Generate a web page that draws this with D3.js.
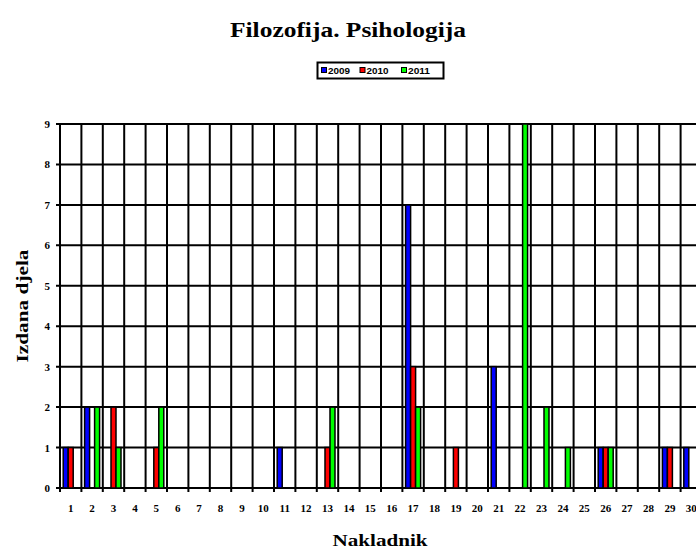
<!DOCTYPE html>
<html>
<head>
  <meta charset="UTF-8">
  <title>Filozofija. Psihologija</title>
  <style>
    body { margin: 0; background: #fff; }
    svg { display: block; }
  </style>
</head>
<body>
<svg></svg>
<script src="https://d3js.org/d3.v7.min.js"></script>
<script>

let width = 696, height = 550;

// publisher numbers 1..30
const nakladnici = ["1","2","3","4","5","6","7","8","9","10","11","12","13","14","15",
  "16","17","18","19","20","21","22","23","24","25","26","27","28","29","30"];
const godine = ["2009", "2010", "2011"];
const boje = ["#0000ff", "#ff0000", "#00ff00"];

const v2009 = [1,2,0,0,0,0,0,0,0,0,1,0,0,0,0,0,7,0,0,0,3,0,0,0,0,1,0,0,1,1];
const v2010 = [1,0,2,0,1,0,0,0,0,0,0,0,1,0,0,0,3,0,1,0,0,0,0,0,0,1,0,0,1,0];
const v2011 = [0,2,1,0,2,0,0,0,0,0,0,0,2,0,0,0,2,0,0,0,0,9,2,1,0,1,0,0,0,0];
const yTicks = [0,1,2,3,4,5,6,7,8,9];

let svg = d3.select("svg")
    .attr("width", width)
    .attr("height", height);

let plotLeft = 60, plotTop = 124, plotBottom = 488, catW = 21.4;

let x = d3.scaleBand()
    .domain(nakladnici)
    .range([plotLeft, plotLeft + catW * nakladnici.length])
    .padding(0);

let x1 = d3.scaleBand()
    .domain(godine)
    .range([(catW - 15) / 2, (catW + 15) / 2]);

let y = d3.scaleLinear()
    .domain([0, 9])
    .range([plotBottom, plotTop]);

let color = d3.scaleOrdinal().domain(godine).range(boje);

let rows = nakladnici.map((n, i) => ({
  n: n,
  vals: [
    {g: "2009", v: v2009[i]},
    {g: "2010", v: v2010[i]},
    {g: "2011", v: v2011[i]}
  ]
}));

// title (the original is a bit stretched sideways)
svg.append("text")
    .attr("x", 348).attr("y", 37)
    .attr("text-anchor", "middle")
    .attr("textLength", 236)
    .attr("lengthAdjust", "spacingAndGlyphs")
    .style("font-family", "'Liberation Serif', serif")
    .style("font-weight", "bold")
    .style("font-size", "21px")
    .text("Filozofija. Psihologija");

// legend
let leg = svg.append("g");
leg.append("rect")
    .attr("x", 317.5).attr("y", 62.5)
    .attr("width", 126).attr("height", 16)
    .attr("fill", "#fff")
    .attr("stroke", "#000")
    .attr("stroke-width", 2);
let legX = [321.5, 360, 401.5];
godine.forEach((g, i) => {
  leg.append("rect")
      .attr("x", legX[i]).attr("y", 67.5)
      .attr("width", 5).attr("height", 5)
      .attr("fill", color(g))
      .attr("stroke", "#000")
      .attr("stroke-width", 1);
  leg.append("text")
      .attr("x", legX[i] + 6.5).attr("y", 74)
      .attr("textLength", 22)
      .attr("lengthAdjust", "spacingAndGlyphs")
      .style("font-family", "'Liberation Sans', Arial, sans-serif")
      .style("font-weight", "bold")
      .style("font-size", "9px")
      .text(g);
});

// horizontal grid
svg.append("g")
    .selectAll("line")
    .data(yTicks)
    .enter()
    .append("line")
      .attr("x1", plotLeft - 4)
      .attr("x2", x.range()[1])
      .attr("y1", d => y(d))
      .attr("y2", d => y(d))
      .attr("stroke", "#000")
      .attr("stroke-width", 2);

// vertical grid at category boundaries
let granice = nakladnici.map(n => x(n)).concat([x.range()[1]]);
svg.append("g")
    .selectAll("line")
    .data(granice)
    .enter()
    .append("line")
      .attr("x1", d => d)
      .attr("x2", d => d)
      .attr("y1", plotTop)
      .attr("y2", plotBottom + 4)
      .attr("stroke", "#000")
      .attr("stroke-width", 2);

// bars
svg.append("g")
    .selectAll("g")
    .data(rows)
    .enter()
    .append("g")
      .attr("transform", d => "translate(" + x(d.n) + ",0)")
    .selectAll("rect")
    .data(d => d.vals.filter(e => e.v > 0))
    .enter()
    .append("rect")
      .attr("x", d => x1(d.g))
      .attr("y", d => y(d.v))
      .attr("width", x1.bandwidth())
      .attr("height", d => plotBottom - y(d.v))
      .attr("fill", d => color(d.g))
      .attr("stroke", "#000")
      .attr("stroke-width", 1.5);

// y tick labels
svg.append("g")
    .selectAll("text")
    .data(yTicks)
    .enter()
    .append("text")
      .attr("x", 50)
      .attr("y", d => y(d) + 4)
      .attr("text-anchor", "end")
      .style("font-family", "'Liberation Serif', serif")
      .style("font-weight", "bold")
      .style("font-size", "11px")
      .text(d => d);

// x tick labels
svg.append("g")
    .selectAll("text")
    .data(nakladnici)
    .enter()
    .append("text")
      .attr("x", d => x(d) + x.bandwidth() / 2)
      .attr("y", 512)
      .attr("text-anchor", "middle")
      .style("font-family", "'Liberation Serif', serif")
      .style("font-weight", "bold")
      .style("font-size", "11px")
      .text(d => d);

// axis titles
svg.append("text")
    .attr("x", 380).attr("y", 546)
    .attr("text-anchor", "middle")
    .attr("textLength", 95)
    .attr("lengthAdjust", "spacingAndGlyphs")
    .style("font-family", "'Liberation Serif', serif")
    .style("font-weight", "bold")
    .style("font-size", "17px")
    .text("Nakladnik");

svg.append("text")
    .attr("transform", "translate(28,306) rotate(-90)")
    .attr("text-anchor", "middle")
    .attr("textLength", 113)
    .attr("lengthAdjust", "spacingAndGlyphs")
    .style("font-family", "'Liberation Serif', serif")
    .style("font-weight", "bold")
    .style("font-size", "17px")
    .text("Izdana djela");

</script>
</body>
</html>
